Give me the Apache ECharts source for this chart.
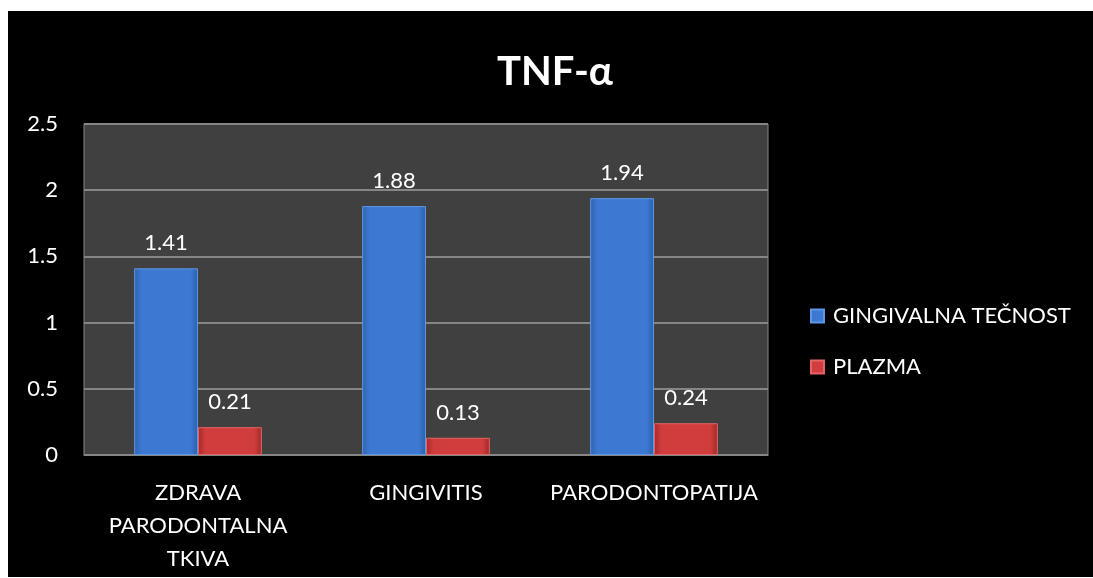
<!DOCTYPE html>
<html><head><meta charset="utf-8">
<script src="https://cdn.jsdelivr.net/npm/echarts@6/dist/echarts.min.js"></script>
<style>
html,body{margin:0;padding:0;background:#fff;}
#wrap{position:relative;width:1093px;height:578px;background:#fff;overflow:hidden;}
#c{position:absolute;left:8px;top:11px;width:1085px;height:566px;}
</style></head>
<body><div id="wrap"><div id="c"></div></div>
<script>
const categories = ['ZDRAVA\nPARODONTALNA\nTKIVA', 'GINGIVITIS', 'PARODONTOPATIJA'];
const seriesNames = ['GINGIVALNA TEČNOST', 'PLAZMA'];
const gingivalna = [1.41, 1.88, 1.94];
const plazma = [0.21, 0.13, 0.24];
const yTicks = { min: 0, max: 2.5, interval: 0.5 };

const font = 'Lato, "Open Sans", sans-serif';
function grad(c1, c2, c3) {
  return new echarts.graphic.LinearGradient(0, 0, 1, 0, [
    { offset: 0, color: c1 }, { offset: 0.12, color: c2 },
    { offset: 0.88, color: c2 }, { offset: 1, color: c3 }
  ]);
}
const chart = echarts.init(document.getElementById('c'));
chart.setOption({
  backgroundColor: '#000',
  animation: false,
  title: {
    text: 'TNF-α', left: 542, top: 36, textAlign: 'center',
    textStyle: { color: '#fff', fontSize: 40, fontWeight: 'bold', fontFamily: font }
  },
  legend: {
    orient: 'vertical', left: 802, top: 294, padding: 0,
    itemWidth: 13, itemHeight: 13, itemGap: 29,
    icon: 'rect',
    textStyle: { color: '#fff', fontSize: 22, lineHeight: 22, fontFamily: font, padding: [0, 0, 0, 4] },
    data: seriesNames
  },
  grid: { left: 76, top: 113, width: 684, height: 331, backgroundColor: '#404040', show: true, borderColor: '#868686', borderWidth: 1 },
  xAxis: {
    type: 'category', data: categories,
    axisLine: { lineStyle: { color: '#868686' } },
    axisTick: { show: false },
    axisLabel: { color: '#fff', fontSize: 22, fontFamily: font, lineHeight: 33, margin: 21, interval: 0 }
  },
  yAxis: {
    type: 'value', min: yTicks.min, max: yTicks.max, interval: yTicks.interval,
    axisLine: { show: false }, axisTick: { show: false },
    splitLine: { lineStyle: { color: '#868686', width: 2 } },
    axisLabel: { color: '#fff', fontSize: 22, fontFamily: font, margin: 26 }
  },
  series: [
    {
      name: seriesNames[0], type: 'bar', data: gingivalna,
      barGap: '0%', barCategoryGap: '44%',
      itemStyle: { color: grad('#2f62ad', '#3d79d2', '#2d5fa8'), borderColor: '#5d98e6', borderWidth: 1 },
      label: { show: true, position: 'top', distance: 14, color: '#fff', fontSize: 22, fontFamily: font }
    },
    {
      name: seriesNames[1], type: 'bar', data: plazma,
      itemStyle: { color: grad('#a52a2a', '#d13d3d', '#a02828'), borderColor: '#e56565', borderWidth: 1 },
      label: { show: true, position: 'top', distance: 14, color: '#fff', fontSize: 22, fontFamily: font }
    }
  ]
});
</script></body></html>
